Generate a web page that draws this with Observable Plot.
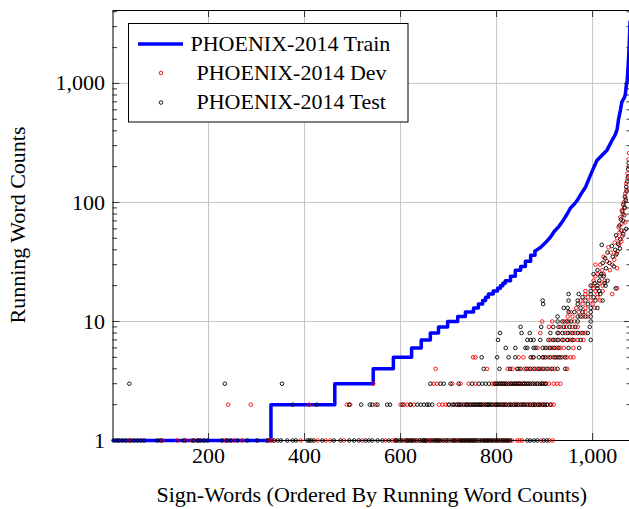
<!DOCTYPE html>
<html><head><meta charset="utf-8">
<script src="https://cdn.jsdelivr.net/npm/d3@7"></script>
<script src="https://cdn.jsdelivr.net/npm/@observablehq/plot@0.6"></script>
<style>
html,body{margin:0;padding:0;background:#fff;overflow:hidden;width:629px;height:509px}
#wrap{position:relative;width:632px;height:509px}
svg{display:block}
</style></head><body><div id="wrap"></div>
<script>
// ---- data ----
// training running-word counts: [sign-word index where level starts, count]
const trainSteps = [[1,1],[330,2],[463,3],[543,4],[585,5],[623,6],[643,7],[662,8],[679,9],[698,10],[719,11],[735,12],[752,13],[762,14],[771,15],[777,16],[783,17],[793,18],[802,19],[808,20],[813,21],[818,22],[829,24],[839,27],[850,29],[860,32],[871,36],[880,39]];
const trainUpper = [[880,39],[892,42],[902,46],[912,51],[920,57],[930,63],[939,71],[947,80],[954,90],[962,97],[968,104],[976,118],[985,134],[993,160],[1002,195],[1009,225],[1020,250],[1030,275],[1040,330],[1047,370],[1051,410],[1054,500],[1058,600],[1061,700],[1066,760],[1068,800],[1070,950],[1072,1060],[1074,1400],[1076,2000],[1078,3300]];

// dev counts: rows of [count, sign-word indices]
const devRows = [
 [1,[34,104,135,153,166,177,236,253,270,322,330,333,392,427,444,454,482,520,569,583,588,605,610,616,622,631,640,648,652,660,665,675,680,688,695,705,712,718,726,734,742,750,756,765,775,782,790,800,808,815,822,832,843,848,853,893,910,917]],
 [2,[241,288,409,488,495,548,600,607,614,620,628,680,687,694,700,715,722,730,738,745,752,762,768,775,782,793,800,808,813,818,825,830,835,840,845,852,860,866,870,875,880,885,890,895,900,906,914,919]],
 [3,[543,669,676,708,725,742,756,791,795,801,810,815,820,825,830,838,842,846,850,858,866,875,885,895,903,909,919,926,933]],
 [4,[673,780,823,833,846,858,866,875,884,893,902,912,921,947]],
 [5,[751,756,846,856,875,898,908,918,925,937,947,954,960]],
 [6,[885,906,916,925,933,940,960]],
 [7,[912,922,929,940,947,954,961,969,981]],
 [8,[891,929,943,954,964,975,985]],
 [9,[909,933,945,958,969]],
 [10,[895,916,941,950,962]],
 [11,[948,958,979,990]],
 [12,[954,971,985]],
 [13,[966,985,1004]],
 [14,[979,1000]],
 [15,[975,996,1016]],
 [16,[990,1010]],
 [17,[985,1010,1041]],
 [18,[985,1006,1021]],
 [19,[1002,1051]],
 [20,[1000,1021]],
 [21,[1014]],
 [22,[1002,1025]],
 [24,[1006]],
 [25,[1010,1023]]
];
const devUpper = [[1006,30],[1051,28],[1020,27],[1036,27],[1016,30],[1041,30],[1030,32],[1045,33],[1023,35],[1048,36],[1038,38],[1052,39],[1033,42],[1055,44],[1046,46],[1060,47],[1051,50],[1062,52],[1056,56],[1066,58],[1054,62],[1060,66],[1068,68],[1058,75],[1063,80],[1061,86],[1066,92],[1065,100],[1069,108],[1068,119],[1071,128],[1070,144],[1073,160],[1073,175],[1075,200],[1075,230],[1076,260]];

// test counts
const testRows = [
 [1,[3,9,14,21,28,38,45,52,59,66,93,100,149,169,178,183,191,198,228,239,246,260,281,301,323,337,344,351,364,375,382,406,410,414,419,437,461,475,493,503,513,527,534,541,552,562,576,590,593,598,602,612,615,620,624,628,634,640,645,648,652,655,662,668,672,675,680,683,690,696,700,708,712,716,722,726,730,734,738,742,745,749,752,756,760,765,770,774,778,782,786,790,795,799,803,808,812,816,820,824,828,864,870,878,885,898,905]],
 [2,[375,425,493,518,536,541,552,572,578,604,621,635,642,649,655,659,666,701,708,711,718,722,726,733,737,740,744,748,752,755,758,762,765,768,772,778,781,784,787,790,797,800,803,806,812,816,820,826,830,836,840,845,850,855,858,864,870,876,880,886,890,896,900,905,912]],
 [3,[35,234,353,662,683,690,704,721,749,763,770,777,784,797,800,805,808,812,816,820,825,830,834,838,842,846,850,855,858,862,866,870,875,880,885,890,894,898,902]],
 [4,[773,806,828,843,850,862,870,879,888,897,906,916,927,943]],
 [5,[769,801,825,839,871,877,888,896,902,912,922,929,933,943]],
 [6,[819,839,860,864,877,881,896,902,911,920,929,950,972]],
 [7,[803,864,871,877,891,908,918,927,937,948,958,975,996]],
 [8,[807,852,869,912,927,937,948,958,969,979,990]],
 [9,[850,893,918,929,940,952,964,994]],
 [10,[927,937,946,955,969,996]],
 [11,[927,969,975,985,996]],
 [12,[950,962,979,996]],
 [13,[940,948,975,996,1010]],
 [14,[897,969,990]],
 [15,[896,950,969,985,1006,1021]],
 [16,[979,1002]],
 [17,[950,971,996,1016]],
 [18,[996,1014]],
 [19,[1010,1048]],
 [20,[996,1010,1027]],
 [21,[1004,1025]],
 [22,[1014,1031]],
 [24,[1016,1023]],
 [25,[1002,1018]]
];
const testUpper = [[1010,27],[1028,28],[1044,29],[1021,31],[1035,31],[1026,34],[1042,35],[1050,37],[1031,38],[1047,40],[1057,41],[1040,43],[1019,44],[1053,45],[1058,49],[1049,53],[1064,54],[1060,58],[1070,60],[1056,64],[1064,70],[1059,72],[1066,78],[1062,84],[1067,90],[1064,96],[1069,104],[1067,112],[1071,124],[1070,135],[1072,150],[1074,165],[1074,190],[1075,215]];

const xTicks = [200,400,600,800,1000];
const yTicks = [1,10,100,1000];
const yMinor = [2,3,4,5,6,7,8,9,20,30,40,50,60,70,80,90,200,300,400,500,600,700,800,900,2000,3000,4000];
const seriesNames = ["PHOENIX-2014 Train","PHOENIX-2014 Dev","PHOENIX-2014 Test"];
const xLabel = "Sign-Words (Ordered By Running Word Counts)";
const yLabel = "Running Word Counts";

// ---- build tables ----
const toObj = ([x, c]) => ({x, c});
const train = trainSteps.map(toObj);
const trainTop = trainUpper.map(toObj);
const rowsToPts = (rows, upper) => rows.flatMap(([c, xs]) => xs.map(x => ({x, c}))).concat(upper.map(toObj));
const dev = rowsToPts(devRows, devUpper);
const test = rowsToPts(testRows, testUpper);

const W=632, H=509, mL=112.5, mR=1, mT=10, mB=69;
const pw = W-mL-mR, ph = H-mT-mB;
const font = "'Liberation Serif','Times New Roman',serif";
const grid = "#c4c4c4";
const dotR = 1.8, dotW = 0.9;

const chart = Plot.plot({
  width: W, height: H, marginLeft: mL, marginRight: mR, marginTop: mT, marginBottom: mB,
  style: {fontFamily: font, fontSize: "22px", background: "#fff", color: "#000", overflow: "visible"},
  x: {domain: [1, 1081]},
  y: {type: "log", domain: [1, 4100]},
  marks: [
    Plot.ruleX(xTicks, {x: d => d, stroke: grid, strokeWidth: 1}),
    Plot.ruleY(yTicks.slice(1), {y: d => d, stroke: grid, strokeWidth: 1}),
    Plot.tickX(xTicks, {x: d => d, insetTop: ph-7, stroke: "#333"}),
    Plot.tickX(xTicks, {x: d => d, insetBottom: ph-7, stroke: "#333"}),
    Plot.tickY(yTicks, {y: d => d, insetRight: pw-7, stroke: "#333"}),
    Plot.tickY(yTicks, {y: d => d, insetLeft: pw-7, stroke: "#333"}),
    Plot.tickY(yMinor, {y: d => d, insetRight: pw-4.5, stroke: "#333"}),
    Plot.tickY(yMinor, {y: d => d, insetLeft: pw-4.5, stroke: "#333"}),
    Plot.axisX({ticks: xTicks, tickSize: 0, tickPadding: 7, tickFormat: d3.format(","), label: null}),
    Plot.axisY({ticks: yTicks, tickSize: 0, tickPadding: 8, tickFormat: d3.format(","), label: null}),
    Plot.frame({stroke: "#000", strokeWidth: 1}),
    Plot.line(train, {x: "x", y: "c", curve: "step-after", stroke: "#0000ff", strokeWidth: 3.5}),
    Plot.line(trainTop, {x: "x", y: "c", curve: "linear", stroke: "#0000ff", strokeWidth: 3.5}),
    Plot.dot(dev, {x: "x", y: "c", r: dotR, stroke: "#ff0000", strokeWidth: dotW}),
    Plot.dot(test, {x: "x", y: "c", r: dotR, stroke: "#000", strokeWidth: dotW})
  ]
});
document.getElementById("wrap").appendChild(chart);

const svg = d3.select(chart);
svg.append("text").attr("x", mL + pw/2).attr("y", 502).attr("text-anchor", "middle")
  .style("font-family", font).style("font-size", "22px").attr("fill", "#000").text(xLabel);
svg.append("text").attr("transform", `translate(25,${mT + ph/2}) rotate(-90)`).attr("text-anchor", "middle")
  .style("font-family", font).style("font-size", "22px").attr("fill", "#000").text(yLabel);

// legend
const lg = svg.append("g");
lg.append("rect").attr("x", 128.5).attr("y", 23.5).attr("width", 279.5).attr("height", 98.5)
  .attr("fill", "#fff").attr("stroke", "#000").attr("stroke-width", 1);
lg.append("line").attr("x1", 138).attr("x2", 183).attr("y1", 44).attr("y2", 44)
  .attr("stroke", "#0000ff").attr("stroke-width", 3.5);
lg.append("circle").attr("cx", 161).attr("cy", 73).attr("r", dotR).attr("fill", "none").attr("stroke", "#ff0000").attr("stroke-width", dotW);
lg.append("circle").attr("cx", 161).attr("cy", 102.5).attr("r", dotR).attr("fill", "none").attr("stroke", "#000").attr("stroke-width", dotW);
[[190.5,51,seriesNames[0]],[196.5,80,seriesNames[1]],[196.5,108.5,seriesNames[2]]].forEach(([x,y,t]) => {
  lg.append("text").attr("x", x).attr("y", y).attr("text-anchor", "start")
    .style("font-family", font).style("font-size", "22px").attr("fill", "#000").text(t);
});
</script>
</body></html>
